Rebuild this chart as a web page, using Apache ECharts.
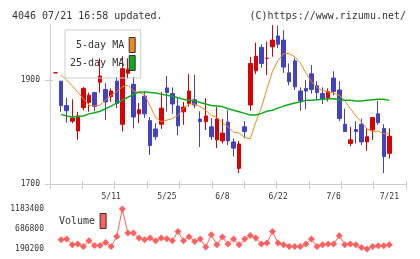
<!DOCTYPE html>
<html>
<head>
<meta charset="utf-8">
<script src="https://cdn.jsdelivr.net/npm/echarts@6/dist/echarts.min.js"></script>
<style>
html,body{margin:0;padding:0;background:#fff;}
#chart{width:420px;height:259px;}
</style>
</head>
<body>
<div id="chart"></div>
<script>
var FONT = 'DejaVu Sans Mono';

var dates = ['4/21','4/22','4/23','4/24','4/27','4/28','4/30','5/1','5/7','5/8',
  '5/11','5/12','5/13','5/14','5/15','5/18','5/19','5/20','5/21','5/22',
  '5/25','5/26','5/27','5/28','5/29','6/1','6/2','6/3','6/4','6/5',
  '6/8','6/9','6/10','6/11','6/12','6/15','6/16','6/17','6/18','6/19',
  '6/22','6/23','6/24','6/25','6/26','6/29','6/30','7/1','7/2','7/3',
  '7/6','7/7','7/8','7/9','7/10','7/13','7/14','7/15','7/16','7/17','7/21'];

var tickLabels = ['5/11','5/25','6/8','6/22','7/6','7/21'];

// open, close, low, high
var ohlc = [
  [1914,1914,1914,1914],
  [1898,1851,1839,1898],[1851,1841,1818,1866],[1821,1827,1817,1863],[1802,1831,1785,1839],[1847,1884,1842,1887],
  [1857,1871,1839,1876],[1876,1849,1840,1876],[1896,1908,1876,1942],[1882,1858,1823,1894],[1868,1879,1858,1884],
  [1898,1855,1846,1906],[1815,1922,1801,1946],[1913,1921,1903,1942],[1892,1829,1807,1906],[1835,1843,1817,1856],
  [1869,1835,1827,1879],[1822,1774,1756,1829],[1806,1791,1785,1817],[1815,1846,1806,1877],[1885,1876,1839,1908],
  [1874,1854,1835,1886],[1850,1812,1794,1867],[1839,1848,1814,1858],[1855,1879,1849,1912],[1862,1852,1846,1910],
  [1825,1820,1771,1840],[1820,1831,1804,1865],[1810,1791,1785,1827],[1785,1825,1769,1848],[1783,1798,1778,1825],
  [1819,1783,1775,1842],[1781,1769,1753,1788],[1730,1777,1721,1783],[1810,1801,1788,1821],[1852,1932,1841,1945],
  [1918,1946,1912,1972],[1963,1932,1924,1969],[1942,1942,1910,1974],[1964,1977,1945,2006],[1985,1969,1962,2005],
  [1977,1925,1914,1996],[1914,1897,1890,1932],[1937,1887,1881,1942],[1879,1860,1841,1886],[1884,1879,1844,1900],
  [1912,1882,1874,1929],[1889,1876,1862,1898],[1874,1863,1854,1886],[1865,1878,1859,1884],[1904,1878,1871,1917],
  [1881,1826,1821,1898],[1815,1801,1801,1845],[1778,1785,1773,1810],[1805,1801,1778,1821],[1815,1781,1775,1826],
  [1781,1791,1764,1807],[1804,1828,1785,1829],[1835,1818,1814,1860],[1807,1753,1721,1815],[1759,1792,1749,1807]
];

var ma5 = ['-',1910,1900,1889,1877,1864,1852,1850,1852,1862,1871,
  1878,1887,1890,1879,1876,1872,1850,1828,1820,1823,
  1826,1832,1846,1854,1854,1849,1842,1832,1828,1818,
  1810,1800,1798,1790,1787,1819,1847,1883,1917,1938,
  1951,1951,1945,1933,1914,1897,1886,1880,1877,1875,
  1871,1860,1845,1831,1819,1806,1801,1802,1797,1796];

var ma25 = ['-',1834,1831,1829,1830,1831,1835,1837,1840,1845,1850,
  1856,1861,1867,1872,1877,1877,1876,1875,1873,1871,
  1869,1866,1863,1861,1860,1857,1854,1851,1850,1849,
  1845,1842,1839,1836,1833,1833,1836,1840,1842,1846,
  1850,1853,1856,1858,1861,1861,1862,1863,1864,1864,
  1862,1861,1861,1860,1860,1861,1862,1863,1863,1861];

var volume = ['-',419400,436700,296200,313400,254300,394800,278900,278900,352900,254300,
  500700,1183400,584500,584500,461300,419400,461300,394800,461300,444000,
  394800,624000,394800,493300,377500,436700,239500,542600,296200,485900,
  313400,436700,296200,436700,525400,461300,313400,338100,624000,338100,
  296200,254300,254300,254300,313400,436700,254300,296200,313400,313400,
  518000,296200,313400,296200,229600,190200,254300,271500,271500,296200];

var priceTicks = [1700, 1900];
var volumeTicks = [190200, 686800, 1183400];

// one empty slot before the data and three after it
var cats = [''].concat(dates, ['', '', '']);
var pad = function (arr) { return ['-'].concat(arr); };
var plain = function (v) { return String(v); };

var chart = echarts.init(document.getElementById('chart'));

var gridBox = {left: 50, right: 14, top: 24, height: 160};
var gray = '#cccccc';
var labelStyle = {fontFamily: FONT, fontSize: 8, color: '#333', formatter: plain};

var option = {
  animation: false,
  title: [
    {text: '4046 07/21 16:58 updated.', left: 7, top: 6,
      textStyle: {fontFamily: FONT, fontSize: 10, fontWeight: 'normal', color: '#333'}},
    {text: '(C)https://www.rizumu.net/', right: 9, top: 6,
      textStyle: {fontFamily: FONT, fontSize: 10, fontWeight: 'normal', color: '#333'}}
  ],
  legend: [
    {
      data: [{name: '5-day MA', icon: 'rect'}, {name: '25-day MA', icon: 'rect'}],
      orient: 'vertical', align: 'right', left: 65, top: 30,
      padding: [7, 5, 7, 5], itemGap: 2, itemWidth: 6, itemHeight: 15,
      borderColor: gray, borderWidth: 1, selectedMode: false,
      itemStyle: {borderColor: '#333', borderWidth: 1},
      formatter: function (name) { return name.length < 9 ? ' ' + name : name; },
      textStyle: {fontFamily: FONT, fontSize: 10, color: '#333'}
    },
    {
      data: [{name: 'Volume', icon: 'rect'}],
      align: 'right', left: 59, top: 213, padding: 0,
      itemWidth: 6, itemHeight: 15, selectedMode: false,
      itemStyle: {borderColor: '#333', borderWidth: 1},
      textStyle: {fontFamily: FONT, fontSize: 10, color: '#333'}
    }
  ],
  grid: [
    gridBox,
    gridBox,
    gridBox,
    {left: 50, right: 14, top: 209, height: 40}
  ],
  xAxis: [
    {gridIndex: 0, type: 'category', data: cats, boundaryGap: false,
      axisLine: {lineStyle: {color: gray}}, axisTick: {show: false},
      axisLabel: {interval: function (i, v) { return tickLabels.indexOf(v) >= 0; },
        margin: 9, fontFamily: FONT, fontSize: 8, color: '#333'},
      splitLine: {show: false}},
    {gridIndex: 1, type: 'value', min: 0, max: 11, interval: 1,
      axisLine: {show: false}, axisTick: {show: true, length: 5, lineStyle: {color: gray}},
      axisLabel: {show: false}, splitLine: {show: false}},
    {gridIndex: 2, type: 'value', min: 0, max: 11, interval: 1,
      axisLine: {show: false}, axisTick: {show: true, inside: true, length: 3, lineStyle: {color: gray}},
      axisLabel: {show: false}, splitLine: {show: false}},
    {gridIndex: 3, type: 'category', data: cats, boundaryGap: false, show: false}
  ],
  yAxis: [
    {gridIndex: 0, type: 'value', min: 1700, max: 2008,
      axisLine: {show: true, lineStyle: {color: gray}},
      axisTick: {show: true, length: 5, customValues: priceTicks, lineStyle: {color: gray}},
      axisLabel: Object.assign({margin: 10, customValues: priceTicks}, labelStyle),
      splitLine: {show: false}},
    {gridIndex: 1, type: 'value', min: 1700, max: 2008,
      axisLine: {show: false},
      axisTick: {show: true, inside: true, length: 3, customValues: priceTicks, lineStyle: {color: gray}},
      axisLabel: {show: false}, splitLine: {show: false}},
    {gridIndex: 2, type: 'value', min: 1700, max: 2008, show: false},
    {gridIndex: 3, type: 'value', min: 190200, max: 1183400,
      axisLine: {show: false}, axisTick: {show: false},
      axisLabel: Object.assign({margin: 6, customValues: volumeTicks}, labelStyle),
      splitLine: {show: false}}
  ],
  series: [
    {
      name: 'price', type: 'candlestick', xAxisIndex: 0, yAxisIndex: 0,
      data: pad(ohlc), barWidth: 4,
      itemStyle: {
        color: '#d80000', color0: '#4343c0',
        borderColor: '#d80000', borderColor0: '#4343c0', borderColorDoji: '#d80000',
        borderWidth: 1
      },
      z: 2
    },
    {
      name: '5-day MA', type: 'line', xAxisIndex: 0, yAxisIndex: 0,
      data: pad(ma5), showSymbol: false, color: '#f08a1a',
      lineStyle: {width: 1, color: '#f08a1a'}, z: 3
    },
    {
      name: '25-day MA', type: 'line', xAxisIndex: 0, yAxisIndex: 0,
      data: pad(ma25), showSymbol: false, color: '#12a81e',
      lineStyle: {width: 1.5, color: '#12a81e'}, z: 3
    },
    {
      name: 'Volume', type: 'line', xAxisIndex: 3, yAxisIndex: 3,
      data: pad(volume), symbol: 'diamond', symbolSize: 7, showAllSymbol: true,
      color: '#ff6060', itemStyle: {color: '#ff6060'},
      lineStyle: {width: 1, color: '#ff6060'}
    }
  ]
};

chart.setOption(option);
</script>
</body>
</html>
